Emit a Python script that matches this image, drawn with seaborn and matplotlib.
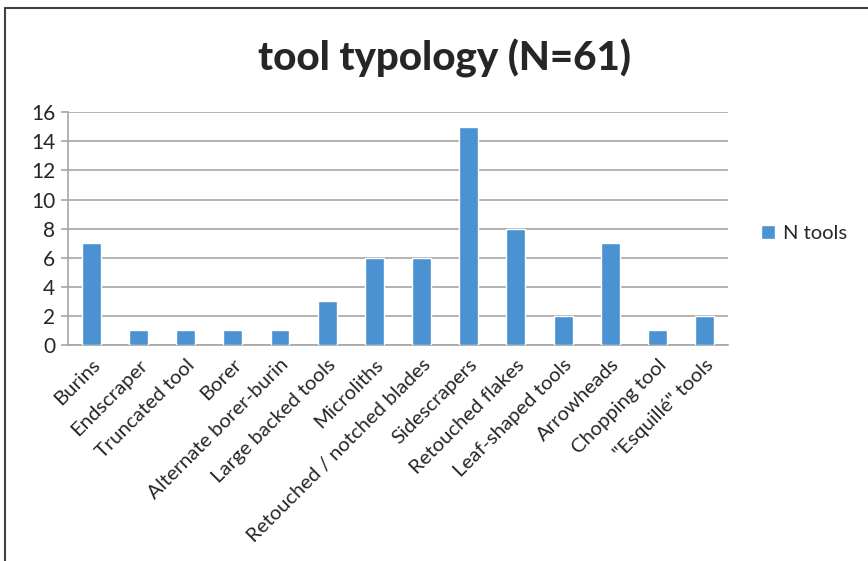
import numpy as np
import pandas as pd
import matplotlib
matplotlib.use('Agg')
import matplotlib.pyplot as plt
import seaborn as sns
from matplotlib.lines import Line2D
from matplotlib.patches import Patch

# 工具类型与数量
categories = ['Burins', 'Endscraper', 'Truncated tool', 'Borer', 'Alternate borer-burin',
              'Large backed tools', 'Microliths', 'Retouched / notched blades', 'Sidescrapers',
              'Retouched flakes', 'Leaf-shaped tools', 'Arrowheads', 'Chopping tool',
              '"Esquillé" tools']
n_tools = [7, 1, 1, 1, 1, 3, 6, 6, 15, 8, 2, 7, 1, 2]
y_ticks = [0, 2, 4, 6, 8, 10, 12, 14, 16]

sns.set_style('white')
plt.rcParams['font.family'] = ['Lato', 'DejaVu Sans']

bar_color = '#4A92D2'
grid_color = '#A6A6A6'

df = pd.DataFrame({'tool': categories, 'n': n_tools})

fig = plt.figure(figsize=(8.68, 5.61), dpi=100)
ax = fig.add_axes([0.078, 0.385, 0.761, 0.415])

sns.barplot(data=df, x='tool', y='n', color=bar_color, width=0.4, ax=ax,
            saturation=1, zorder=3)

ax.set_xlim(-0.5, len(categories) - 0.5)
ax.set_ylim(0, 16)
ax.set_yticks(y_ticks)
ax.set_yticklabels([str(v) for v in y_ticks], fontsize=15)
ax.yaxis.grid(True, color=grid_color, linewidth=1.2, zorder=0)
ax.set_xlabel('')
ax.set_ylabel('')

ax.set_xticks(range(len(categories)))
ax.set_xticklabels(categories, rotation=45, ha='right', rotation_mode='anchor', fontsize=14.6)
ax.tick_params(axis='x', which='major', length=0, pad=8)
ax.set_xticks(np.arange(-0.5, len(categories)), minor=True)
ax.tick_params(axis='x', which='minor', length=6, color=grid_color, width=1.2)
ax.tick_params(axis='y', length=5, color=grid_color, width=1.2, pad=4, left=True)

for s in ['top', 'right']:
    ax.spines[s].set_visible(False)
for s in ['left', 'bottom']:
    ax.spines[s].set_color(grid_color)
    ax.spines[s].set_linewidth(1.2)

fig.text(0.512, 0.895, 'tool typology (N=61)', ha='center', va='center',
         fontsize=29, fontweight='black')

fig.legend(handles=[Patch(facecolor=bar_color, label='N tools')],
           loc='center left', bbox_to_anchor=(0.856, 0.583), frameon=False,
           fontsize=14.5, handlelength=0.7, handleheight=0.7, handletextpad=0.4)

# 外框（上边和左边）
fig.add_artist(Line2D([0.006, 1.0], [0.986, 0.986], color='#404040', linewidth=1.5))
fig.add_artist(Line2D([0.006, 0.006], [0.0, 0.986], color='#404040', linewidth=1.5))

plt.savefig('out.png', dpi=100)
plt.close()
